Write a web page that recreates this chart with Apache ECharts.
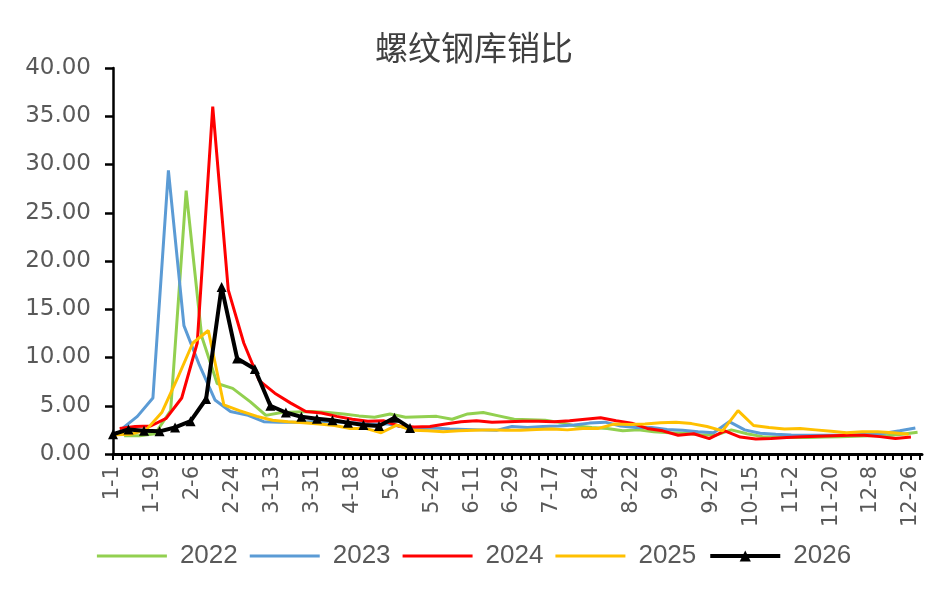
<!DOCTYPE html>
<html>
<head>
<meta charset="utf-8">
<script src="https://cdn.jsdelivr.net/npm/echarts@6/dist/echarts.min.js"></script>
<style>
html,body{margin:0;padding:0;background:#fff;}
#chart{width:948px;height:595px;}
</style>
</head>
<body>
<div id="chart"></div>
<script>
// ---- data ----
const chartTitle = '螺纹钢库销比';
const seriesNames = ['2022', '2023', '2024', '2025', '2026'];
// first weekly date of each year (weekly observations)
const startDates = ['2022-01-06', '2023-01-05', '2024-01-04', '2025-01-02', '2026-01-01'];

const v2022 = [1.9, 1.9, 2.1, 4.5, 27.3, 12.2, 7.3, 6.8, 5.4, 4.0, 4.3, 4.35, 4.4, 4.3, 4.15, 3.95, 3.8, 4.15, 3.8, 3.85, 3.9, 3.6, 4.15, 4.3, 3.95, 3.6, 3.55, 3.5, 3.25, 2.9, 2.75, 2.65, 2.4, 2.5, 2.3, 2.2, 2.15, 2.0, 1.95, 2.5, 2.1, 1.8, 1.75, 1.7, 1.7, 1.75, 1.8, 1.85, 1.9, 1.9, 2.05, 2.25];
const v2023 = [2.6, 3.9, 5.8, 29.4, 13.3, 9.2, 5.6, 4.4, 4.0, 3.35, 3.3, 3.3, 3.35, 3.4, 3.3, 3.2, 3.1, 3.1, 2.8, 2.6, 2.7, 2.6, 2.55, 2.5, 2.45, 2.85, 2.75, 2.85, 2.9, 3.0, 3.2, 3.3, 2.9, 2.75, 2.75, 2.55, 2.45, 2.3, 2.2, 3.35, 2.5, 2.15, 2.05, 1.97, 1.95, 1.95, 1.95, 2.0, 2.05, 2.15, 2.4, 2.7];
const v2024 = [2.65, 2.85, 2.9, 3.7, 5.8, 11.5, 36.0, 17.0, 11.5, 7.6, 6.3, 5.3, 4.4, 4.25, 3.9, 3.6, 3.4, 3.45, 2.9, 2.8, 2.85, 3.1, 3.35, 3.45, 3.3, 3.35, 3.4, 3.4, 3.35, 3.45, 3.6, 3.75, 3.45, 3.2, 2.65, 2.4, 1.95, 2.1, 1.6, 2.4, 1.75, 1.55, 1.6, 1.7, 1.8, 1.85, 1.9, 1.95, 1.95, 1.8, 1.6, 1.75];
const v2025 = [2.0, 2.05, 2.5, 4.3, 7.8, 11.5, 12.8, 5.1, 4.5, 3.9, 3.5, 3.35, 3.25, 3.1, 2.95, 2.65, 2.65, 2.2, 3.0, 2.45, 2.4, 2.3, 2.4, 2.45, 2.5, 2.45, 2.45, 2.55, 2.6, 2.5, 2.65, 2.65, 3.1, 3.05, 3.1, 3.25, 3.3, 3.15, 2.85, 2.4, 4.5, 2.95, 2.75, 2.6, 2.65, 2.5, 2.35, 2.2, 2.3, 2.3, 2.2, 2.05];
const v2026 = [2.05, 2.55, 2.4, 2.35, 2.75, 3.4, 5.7, 17.3, 9.9, 8.8, 5.0, 4.3, 3.85, 3.65, 3.5, 3.25, 3.0, 2.9, 3.75, 2.7];
const allValues = [v2022, v2023, v2024, v2025, v2026];

const yTicks = [0, 5, 10, 15, 20, 25, 30, 35, 40];
const colors = ['#92D050', '#5B9BD5', '#FF0000', '#FFC000', '#000000'];

// month-day categories over a leap reference year
const categories = [];
for (let t = Date.UTC(2024, 0, 1); t <= Date.UTC(2024, 11, 31); t += 86400000) {
  const d = new Date(t);
  categories.push((d.getUTCMonth() + 1) + '-' + d.getUTCDate());
}

function weeklyPairs(start, values) {
  const [y, m, d] = start.split('-').map(Number);
  return values.map((v, i) => {
    const dt = new Date(Date.UTC(y, m - 1, d + 7 * i));
    return [(dt.getUTCMonth() + 1) + '-' + dt.getUTCDate(), v];
  });
}

const lastIdx = seriesNames.length - 1;
const series = seriesNames.map((name, k) => {
  const isLast = k === lastIdx;
  return {
    name: name,
    type: 'line',
    data: weeklyPairs(startDates[k], allValues[k]),
    symbol: isLast ? 'triangle' : 'none',
    symbolSize: isLast ? 10 : 0,
    showSymbol: isLast,
    showAllSymbol: true,
    lineStyle: { color: colors[k], width: isLast ? 4 : 3 },
    itemStyle: { color: colors[k] },
    emphasis: { disabled: true },
    animation: false,
    z: 2 + k
  };
});

// plain line legend icon (invisible move-to points keep the icon box full height)
const lineIcon = 'path://M0,0M0,14M0,5.5L70,5.5L70,8.5L0,8.5Z';
const legendData = seriesNames.map((name, k) =>
  k === lastIdx ? { name: name, lineStyle: { width: 4 } } : { name: name, icon: lineIcon }
);

const chart = echarts.init(document.getElementById('chart'), null, { renderer: 'canvas' });
chart.setOption({
  backgroundColor: '#ffffff',
  animation: false,
  title: {
    text: chartTitle,
    left: 'center',
    top: 26,
    textStyle: { fontFamily: 'Noto Sans CJK SC', fontSize: 33, fontWeight: 'normal', color: '#404040' }
  },
  grid: { left: 113, right: 26, top: 68, bottom: 141, containLabel: false },
  xAxis: {
    type: 'category',
    data: categories,
    boundaryGap: false,
    axisLine: { show: true, lineStyle: { color: '#000', width: 3 } },
    axisTick: { show: true, interval: 3, length: 6, lineStyle: { color: '#000', width: 2 } },
    axisLabel: {
      interval: 17,
      rotate: 90,
      margin: 12,
      fontFamily: 'DejaVu Sans',
      fontSize: 21,
      color: '#595959'
    },
    splitLine: { show: false }
  },
  yAxis: {
    type: 'value',
    min: yTicks[0],
    max: yTicks[yTicks.length - 1],
    interval: 5,
    axisLine: { show: true, lineStyle: { color: '#000', width: 2.5 } },
    axisTick: { show: true, length: 8, lineStyle: { color: '#000', width: 2.5 } },
    axisLabel: {
      formatter: v => v.toFixed(2),
      margin: 22,
      fontFamily: 'DejaVu Sans',
      fontSize: 23,
      color: '#595959'
    },
    splitLine: { show: false }
  },
  legend: {
    data: legendData,
    left: 'center',
    top: 538,
    itemWidth: 70,
    itemHeight: 14,
    itemGap: 12,
    textStyle: { fontFamily: 'Liberation Sans', fontSize: 26, color: '#595959', padding: [0, 0, 0, 8] }
  },
  series: series
});
</script>
</body>
</html>
